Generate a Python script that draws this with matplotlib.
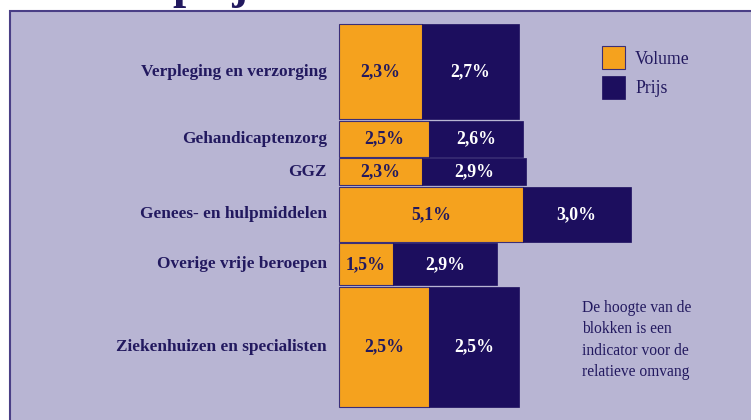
import matplotlib.pyplot as plt
from matplotlib.patches import Rectangle

sectors = ["Verpleging en verzorging", "Gehandicaptenzorg", "GGZ",
           "Genees- en hulpmiddelen", "Overige vrije beroepen",
           "Ziekenhuizen en specialisten"]
volume = [2.3, 2.5, 2.3, 5.1, 1.5, 2.5]
prijs = [2.7, 2.6, 2.9, 3.0, 2.9, 2.5]
# relative omvang (block height)
omvang = [95, 36, 27, 55, 42, 120]

volume_lbl = ["2,3%", "2,5%", "2,3%", "5,1%", "1,5%", "2,5%"]
prijs_lbl = ["2,7%", "2,6%", "2,9%", "3,0%", "2,9%", "2,5%"]

bg = "#b8b5d3"
orange = "#f5a21e"
navy = "#1c0e5e"
txt = "#22195f"
serif = ["Liberation Serif", "DejaVu Serif"]

W, H = 751, 420
fig = plt.figure(figsize=(W / 100, H / 100), dpi=100)
fig.patch.set_facecolor("white")

# lavender panel with border on left and top
fig.patches.append(Rectangle((9.5 / W, -0.1), 1.2, 1.1 - 11.5 / H, transform=fig.transFigure,
                             facecolor=bg, edgecolor="#4a3f86", linewidth=1.5, zorder=-5))

# title, mostly outside the picture (only descenders visible)
fig.text(172 / W, 1 + 2 / H, "prijs", fontsize=34, fontweight="bold", color=txt,
         family=serif, va="baseline", ha="left", zorder=-6)

px = 36.0  # pixels per percent
x0 = 339
ax = fig.add_axes([0, 0, 1, 1], zorder=2)
ax.patch.set_visible(False)
ax.set_xlim(-x0 / px, (W - x0) / px)
top = 24.5
ax.set_ylim(H - top, -top)
ax.axis("off")

gap = 1.5
y = 0
for i in range(len(sectors)):
    h = omvang[i]
    ax.barh(y, volume[i], height=h, align="edge", color=orange, edgecolor="#3b2f78",
            linewidth=0.8)
    ax.barh(y, prijs[i], height=h, left=volume[i], align="edge", color=navy,
            edgecolor=navy, linewidth=0.5)
    yc = y + h / 2
    ax.text(volume[i] / 2, yc, volume_lbl[i], ha="center", va="center", color=txt,
            fontsize=12.8, fontweight="bold", family=serif)
    ax.text(volume[i] + prijs[i] / 2, yc, prijs_lbl[i], ha="center", va="center",
            color="white", fontsize=12.8, fontweight="bold", family=serif)
    ax.text(-12 / px, yc, sectors[i], ha="right", va="center", color=txt,
            fontsize=12.4, fontweight="bold", family=serif)
    y += h + gap

# legend
ax.add_patch(Rectangle(((602 - x0) / px, 46 - top), 23 / px, 23, facecolor=orange,
                       edgecolor="#3b2f78", linewidth=0.8))
ax.add_patch(Rectangle(((602 - x0) / px, 76 - top), 23 / px, 23, facecolor=navy,
                       edgecolor=navy, linewidth=0.5))
ax.text((635 - x0) / px, 60 - top, "Volume", ha="left", va="center", color=txt,
        fontsize=12.7, family=serif)
ax.text((635 - x0) / px, 89 - top, "Prijs", ha="left", va="center", color=txt,
        fontsize=12.7, family=serif)

ax.text((582 - x0) / px, 300 - top,
        "De hoogte van de\nblokken is een\nindicator voor de\nrelatieve omvang",
        ha="left", va="top", color=txt, fontsize=11.2, family=serif, linespacing=1.45)

fig.savefig("out.png", dpi=100, facecolor=fig.get_facecolor())
